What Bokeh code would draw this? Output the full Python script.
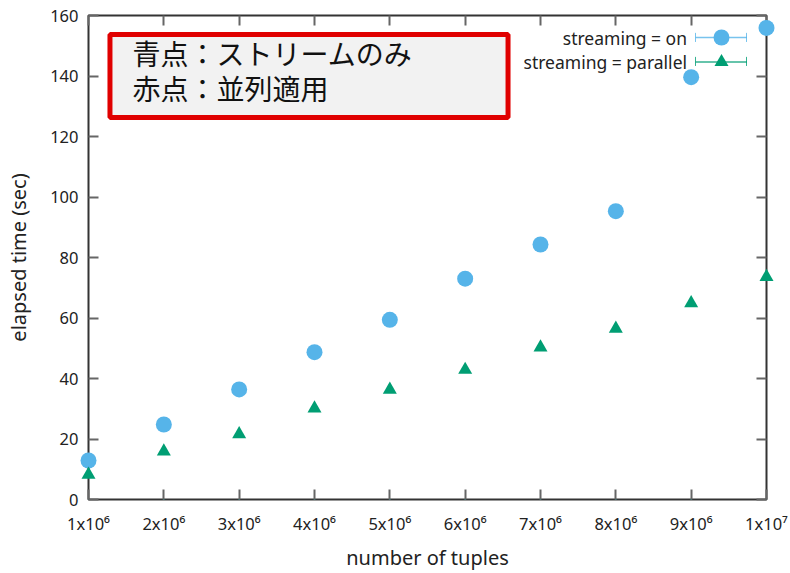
from bokeh.plotting import figure
from bokeh.models import (ColumnDataSource, Range1d, FixedTicker, LinearAxis, Label,
                          BoxAnnotation, Legend, LegendItem, CustomJSTickFormatter)
from bokeh.embed import file_html
from bokeh.resources import INLINE

# ---------------- data ----------------
tuples = [1000000, 2000000, 3000000, 4000000, 5000000,
          6000000, 7000000, 8000000, 9000000, 10000000]
on_sec = [12.9, 24.8, 36.4, 48.7, 59.4, 73.0, 84.3, 95.3, 139.6, 155.9]
parallel_sec = [8.2, 15.9, 21.6, 30.1, 36.3, 42.9, 50.3, 56.5, 64.9, 73.6]

x_ticks = [1000000, 2000000, 3000000, 4000000, 5000000,
           6000000, 7000000, 8000000, 9000000, 10000000]
x_tick_labels = ["1x10⁶", "2x10⁶", "3x10⁶", "4x10⁶", "5x10⁶",
                 "6x10⁶", "7x10⁶", "8x10⁶", "9x10⁶", "1x10⁷"]
y_ticks = [0, 20, 40, 60, 80, 100, 120, 140, 160]

series_names = ["streaming = on", "streaming = parallel"]
series_colors = ["#56B4E9", "#009E73"]
note_lines = ["青点：ストリームのみ", "赤点：並列適用"]
x_title = "number of tuples"
y_title = "elapsed time (sec)"

FONT = "Noto Sans"
TXT = "#222222"

p = figure(width=790, height=573,
           x_range=Range1d(1000000, 10000000), y_range=Range1d(0, 160),
           output_backend="svg", toolbar_location=None,
           min_border_left=88, min_border_right=24,
           min_border_top=15, min_border_bottom=74,
           background_fill_color="white", border_fill_color="white",
           outline_line_color="#333333", outline_line_width=2)
p.grid.visible = False
# a range far above the data: used only so that the legend's error-bar samples
# have renderers whose on-plot drawing lies outside the frame
p.extra_y_ranges = {"legend_only": Range1d(1000, 2000)}


def style_axis(ax):
    ax.axis_line_color = None
    ax.major_tick_in = 10
    ax.major_tick_out = 0
    ax.major_tick_line_color = "#666666"
    ax.major_tick_line_width = 2
    ax.minor_tick_line_color = None
    ax.major_label_text_font = FONT
    ax.major_label_text_font_size = "16.5px"
    ax.major_label_text_color = TXT
    ax.axis_label_text_font = FONT
    ax.axis_label_text_font_size = "20px"
    ax.axis_label_text_font_style = "normal"
    ax.axis_label_text_color = TXT


xa = p.xaxis[0]
xa.ticker = FixedTicker(ticks=x_ticks)
xa.major_label_overrides = {t: lab for t, lab in zip(x_ticks, x_tick_labels)}
xa.axis_label = x_title
style_axis(xa)
xa.major_label_standoff = 12
xa.axis_label_standoff = 6

ya = p.yaxis[0]
ya.ticker = FixedTicker(ticks=y_ticks)
ya.axis_label = y_title
style_axis(ya)
ya.major_label_standoff = 10
ya.axis_label_standoff = 15

blank = CustomJSTickFormatter(code="return ''")
ax_top = LinearAxis(ticker=FixedTicker(ticks=x_ticks), formatter=blank)
ax_right = LinearAxis(ticker=FixedTicker(ticks=y_ticks), formatter=blank)
for ax in (ax_top, ax_right):
    style_axis(ax)
    ax.major_label_text_font_size = "1px"
    ax.major_label_standoff = 0
p.add_layout(ax_top, "above")
p.add_layout(ax_right, "right")

# ---------------- annotation box ----------------
box = BoxAnnotation(left=1285000, right=6569000, top=153.7, bottom=126.3,
                    fill_color="#f2f2f2", fill_alpha=1.0,
                    line_color="#e00000", line_alpha=1.0, line_width=5)
p.add_layout(box)
for txt, yy in zip(note_lines, [147.6, 135.9]):
    p.add_layout(Label(x=1584000, y=yy, text=txt, text_font="Noto Sans CJK JP",
                       text_font_size="28px", text_color="#111111",
                       text_baseline="middle", text_align="left"))

# ---------------- data markers ----------------
src_on = ColumnDataSource(dict(x=tuples, y=on_sec))
src_par = ColumnDataSource(dict(x=tuples, y=parallel_sec))
r_on = p.scatter("x", "y", source=src_on, marker="circle", size=16,
                 fill_color=series_colors[0], line_color=None, level="overlay")
r_par = p.scatter("x", "y", source=src_par, marker="triangle", size=14,
                  fill_color=series_colors[1], line_color=None, level="overlay")

# ---------------- legend (error-bar style sample) ----------------
bar_on = p.line("x", "y", source=src_on, y_range_name="legend_only",
                line_color=series_colors[0], line_width=1.5, line_alpha=0.8)
bar_par = p.line("x", "y", source=src_par, y_range_name="legend_only",
                 line_color=series_colors[1], line_width=1.5, line_alpha=0.8)
cap_on = p.vbar(x="x", top="y", source=src_on, y_range_name="legend_only", width=1,
                fill_color=None, line_color=series_colors[0], line_width=1.5, line_alpha=0.8)
cap_par = p.vbar(x="x", top="y", source=src_par, y_range_name="legend_only", width=1,
                 fill_color=None, line_color=series_colors[1], line_width=1.5, line_alpha=0.8)


def add_legend(rends, loc, gw, gh):
    p.add_layout(Legend(items=[LegendItem(label=" ", renderers=rends)],
                        location=loc, glyph_width=gw, glyph_height=gh,
                        padding=0, margin=0, spacing=0, label_standoff=0,
                        label_width=0, label_height=gh, label_text_font_size="1px",
                        border_line_color=None, background_fill_alpha=0))


# row 1 (streaming = on), row 2 (streaming = parallel)
add_legend([bar_on, r_on], (607, 442), 52, 40)
add_legend([bar_par, r_par], (607, 420), 52, 35)
for cx in (607, 658):
    add_legend([cap_on], (cx, 457), 1, 10)
    add_legend([cap_par], (cx, 433), 1, 10)

for name, yy in zip(series_names, [152.6, 144.6]):
    p.add_layout(Label(x=8945000, y=yy, text=name, text_font=FONT,
                       text_font_size="17.5px", text_color=TXT,
                       text_align="right", text_baseline="middle"))

open("out.html", "w").write(file_html(p, INLINE))
